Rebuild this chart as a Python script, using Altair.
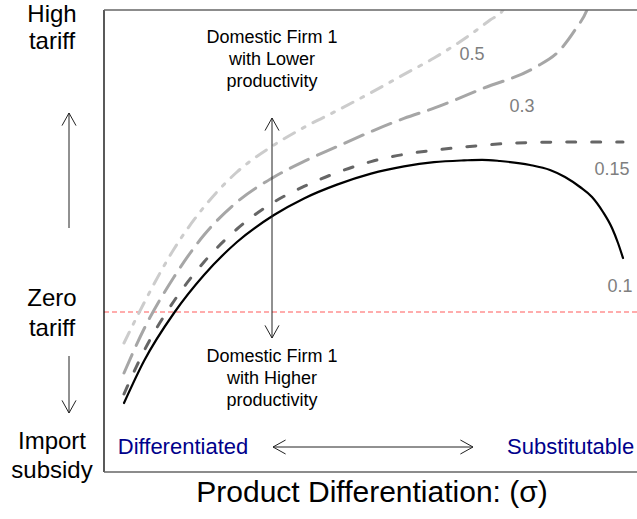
import altair as alt
import pandas as pd

# Optimal tariff against product differentiation (sigma), one curve per cost level
sigma_010 = [1.0, 2.0, 3.5, 5.0, 6.65, 8.5, 10.0, 11.65, 13.35, 15.0, 16.5, 18.0, 18.9, 19.8, 21.3,
             22.3, 23.05, 23.8, 24.4, 24.95, 25.4, 25.7, 25.95]
tariff_010 = [-4.55, -2.45, -0.05, 1.85, 3.5, 4.85, 5.68, 6.37, 6.92, 7.28, 7.49, 7.58, 7.61, 7.55, 7.35,
              7.1, 6.75, 6.25, 5.75, 5.0, 4.2, 3.45, 2.7]

sigma_015 = [1.0, 2.0, 3.5, 5.0, 6.65, 8.5, 10.0, 11.65, 13.35, 15.0, 16.5, 18.0, 20.65, 23.3, 25.95]
tariff_015 = [-4.1, -1.95, 0.55, 2.5, 4.15, 5.5, 6.28, 6.97, 7.52, 7.88, 8.09, 8.25, 8.45, 8.5, 8.5]

sigma_030 = [1.0, 2.0, 3.5, 5.0, 6.65, 8.5, 10.0, 11.65, 13.35, 15.0, 16.5, 19.0, 21.5, 22.8,
             23.55, 24.15, 24.3]
tariff_030 = [-3.05, -0.85, 1.75, 3.85, 5.5, 6.75, 7.53, 8.27, 9.02, 9.68, 10.19, 11.2, 12.2, 13.1,
              14.1, 15.1, 15.5]

sigma_050 = [1.0, 2.0, 3.5, 5.0, 6.65, 8.5, 10.0, 11.65, 13.35, 15.0, 16.5, 18.15, 19.3, 19.95, 20.1]
tariff_050 = [-1.55, 0.45, 3.15, 5.25, 7.0, 8.35, 9.23, 10.07, 10.97, 11.88, 12.7, 13.75, 14.6, 15.1, 15.45]

# Curve labels
curve_labels = ["0.5", "0.3", "0.15", "0.1"]
curve_label_x = [18.4, 20.9, 25.4, 25.8]
curve_label_y = [12.85, 10.25, 7.1, 1.25]

# Axis limits of the schematic panel
sigma_range = [0, 26.65]
tariff_range = [-8, 15.1]
zero_tariff = [0]

# Side labels for the tariff direction
side_labels = ["High", "tariff", "Zero", "tariff", "Import", "subsidy"]
side_x = [-2.6] * 6
side_y = [14.85, 13.5, 0.65, -0.85, -6.5, -7.95]

# Productivity notes around the vertical arrow
note_labels = ["Domestic Firm 1", "with Lower", "productivity",
               "Domestic Firm 1", "with Higher", "productivity"]
note_x = [8.4] * 6
note_y = [13.7, 12.6, 11.5, -2.25, -3.35, -4.45]

# Differentiation extremes
end_labels = ["Differentiated", "Substitutable"]
end_x = [3.95, 20.15]
end_y = [-6.75, -6.75]
end_align = ["center", "left"]

x_title = "Product Differentiation: (\u03c3)"
x_title_pos = [13.4, -9.05]

# Arrows: start and end points, and whether a head is drawn at the start as well
arrow_x1 = [8.4, 8.45, -1.75, -1.75]
arrow_y1 = [-1.3, -6.75, 4.2, -2.2]
arrow_x2 = [8.4, 18.45, -1.75, -1.75]
arrow_y2 = [9.7, -6.75, 9.95, -5.05]
arrow_both = [True, True, False, False]

FONT = "Liberation Sans"
xs = alt.Scale(domain=sigma_range, nice=False, zero=False)
ys = alt.Scale(domain=tariff_range, nice=False, zero=False)


def X(field):
    return alt.X(field, type="quantitative", scale=xs, axis=None)


def Y(field):
    return alt.Y(field, type="quantitative", scale=ys, axis=None)


# Curves drawn back to front
curves = [
    (sigma_050, tariff_050, "#cccccc", [12, 9, 3, 9], 3),
    (sigma_030, tariff_030, "#a6a6a6", [20, 10], 3),
    (sigma_015, tariff_015, "#666666", [9, 16], 3),
    (sigma_010, tariff_010, "#000000", None, 2.2),
]
curve_layers = []
for sx, ty, col, dash, w in curves:
    df = pd.DataFrame({"sigma": sx, "tariff": ty})
    props = dict(color=col, strokeWidth=w, interpolate="monotone", clip=True, strokeCap="round")
    if dash:
        props["strokeDash"] = dash
    curve_layers.append(
        alt.Chart(df).mark_line(**props).encode(x=X("sigma"), y=Y("tariff"), order="sigma:Q")
    )

zero_line = alt.Chart(pd.DataFrame({"tariff": zero_tariff})).mark_rule(
    color="#ff5a5a", strokeWidth=1.2, strokeDash=[5, 3]
).encode(y=Y("tariff"))

left_border = alt.Chart(pd.DataFrame({"sigma": [sigma_range[0]]})).mark_rule(
    color="#000000", strokeWidth=1.3
).encode(x=X("sigma"))
top_bottom = alt.Chart(pd.DataFrame({"tariff": tariff_range})).mark_rule(
    color="#666666", strokeWidth=1.3
).encode(y=Y("tariff"))

# Arrow shafts
shafts = pd.DataFrame({"x1": arrow_x1, "y1": arrow_y1, "x2": arrow_x2, "y2": arrow_y2})
shaft_layer = alt.Chart(shafts).mark_rule(color="#222222", strokeWidth=1).encode(
    x=X("x1"), y=Y("y1"), x2="x2", y2="y2"
)


# Arrow heads: direction follows the shaft
def heading(dx, dy):
    if abs(dx) > abs(dy):
        return 90 if dx > 0 else 270
    return 0 if dy > 0 else 180


heads = []
for x1, y1, x2, y2, both in zip(arrow_x1, arrow_y1, arrow_x2, arrow_y2, arrow_both):
    heads.append({"x": x2, "y": y2, "angle": heading(x2 - x1, y2 - y1)})
    if both:
        heads.append({"x": x1, "y": y1, "angle": heading(x1 - x2, y1 - y2)})
head_layer = alt.Chart(pd.DataFrame(heads)).mark_point(
    shape="M -1 1.8 L 0 0 L 1 1.8", size=196, filled=False, color="#222222",
    strokeWidth=1, opacity=1
).encode(x=X("x"), y=Y("y"), angle=alt.Angle("angle:Q", scale=None))

label_layer = alt.Chart(pd.DataFrame({"x": curve_label_x, "y": curve_label_y, "t": curve_labels})).mark_text(
    font=FONT, fontSize=18, color="#7f7f7f", align="center", baseline="middle"
).encode(x=X("x"), y=Y("y"), text="t:N")

side_layer = alt.Chart(pd.DataFrame({"x": side_x, "y": side_y, "t": side_labels})).mark_text(
    font=FONT, fontSize=24, color="#000000", align="center", baseline="middle"
).encode(x=X("x"), y=Y("y"), text="t:N")

note_layer = alt.Chart(pd.DataFrame({"x": note_x, "y": note_y, "t": note_labels})).mark_text(
    font=FONT, fontSize=18, color="#000000", align="center", baseline="middle"
).encode(x=X("x"), y=Y("y"), text="t:N")

end_layers = [
    alt.Chart(pd.DataFrame({"x": [ex], "y": [ey], "t": [et]})).mark_text(
        font=FONT, fontSize=22, color="#00008b", align=ea, baseline="middle"
    ).encode(x=X("x"), y=Y("y"), text="t:N")
    for ex, ey, et, ea in zip(end_x, end_y, end_labels, end_align)
]

title_layer = alt.Chart(pd.DataFrame({"x": [x_title_pos[0]], "y": [x_title_pos[1]], "t": [x_title]})).mark_text(
    font=FONT, fontSize=30, color="#000000", align="center", baseline="middle"
).encode(x=X("x"), y=Y("y"), text="t:N")

chart = alt.layer(
    zero_line, *curve_layers, left_border, top_bottom, shaft_layer, head_layer,
    label_layer, side_layer, note_layer, *end_layers, title_layer
).properties(
    width=533, height=462,
    padding={"left": 104, "top": 10, "right": 0, "bottom": 47},
    autosize=alt.AutoSizeParams(type="none"),
    background="white",
).configure_view(stroke=None)

chart.save("out.html", embed_options={"renderer": "svg", "actions": False})
